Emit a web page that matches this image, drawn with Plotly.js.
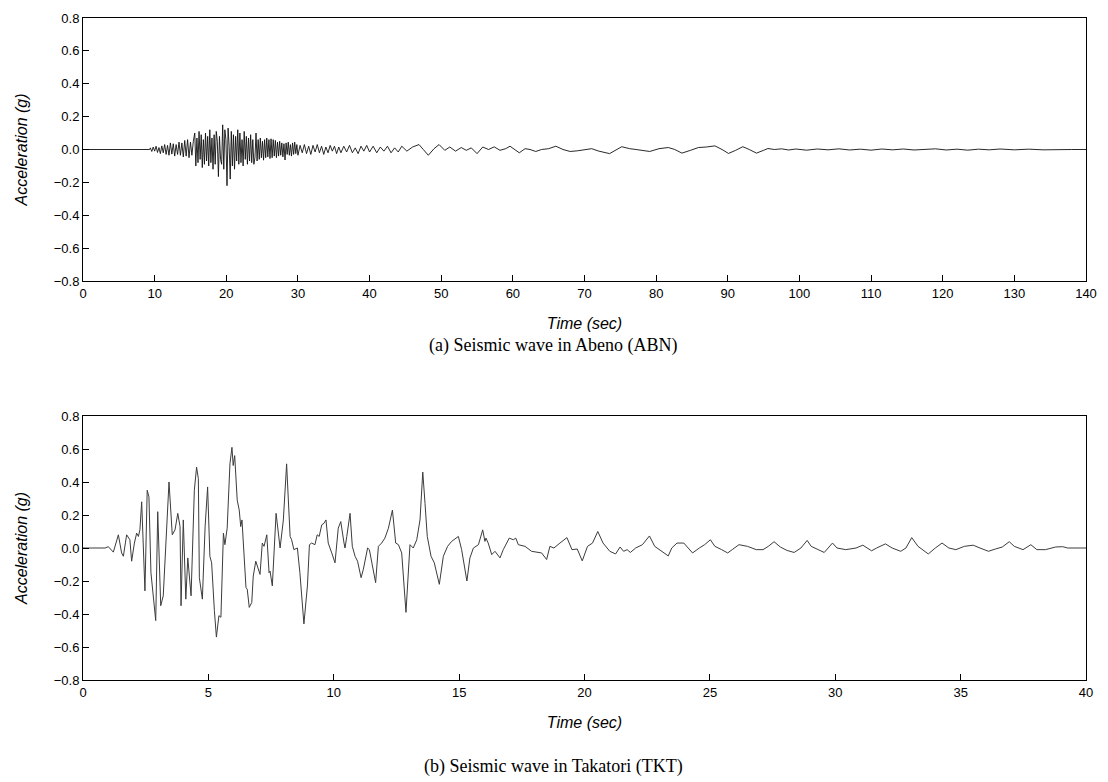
<!DOCTYPE html>
<html>
<head>
<meta charset="utf-8">
<script src="https://cdn.plot.ly/plotly-3.0.1.min.js"></script>
<style>html,body{margin:0;padding:0;background:#fff;}#chart{width:1108px;height:782px;}</style>
</head>
<body>
<div id="chart"></div>
<script>
// ---- (a) Abeno (ABN) record: time (s) and acceleration (g) ----
const abnTime = [0, 9.3,
 9.4, 9.6, 9.8, 10.0, 10.2, 10.4, 10.6, 10.8, 11.0, 11.2, 11.4, 11.6, 11.8, 12.0, 12.2, 12.4, 12.6, 12.8,
 13.0, 13.2, 13.4, 13.6, 13.8, 14.0, 14.2, 14.4, 14.6, 14.8, 15.0, 15.2, 15.4,
 15.6, 15.75, 15.9, 16.05, 16.2, 16.35, 16.5, 16.65, 16.8, 16.95, 17.1, 17.25, 17.4, 17.55, 17.7, 17.85,
 18.0, 18.15, 18.3, 18.45, 18.6, 18.75, 18.9, 19.05, 19.2, 19.35, 19.5, 19.65, 19.8, 19.95, 20.1, 20.25,
 20.4, 20.55, 20.7, 20.85, 21.0, 21.15, 21.3, 21.45, 21.6, 21.75, 21.9, 22.05, 22.2, 22.35, 22.5, 22.65,
 22.8, 22.95, 23.1, 23.25, 23.4, 23.55, 23.7, 23.85, 24.0, 24.15, 24.3, 24.45, 24.6, 24.75, 24.9, 25.05,
 25.2, 25.35, 25.5, 25.65, 25.8, 25.95, 26.1, 26.25, 26.4, 26.55, 26.7, 26.85, 27.0, 27.15, 27.3, 27.45,
 27.6, 27.75, 27.9, 28.05, 28.2, 28.35, 28.5, 28.65, 28.8, 28.95, 29.1, 29.25, 29.4, 29.55, 29.7, 29.85, 30.0,
 30.3, 30.6, 30.9, 31.2, 31.5, 31.8, 32.1, 32.4, 32.7, 33.0, 33.3, 33.6, 33.9, 34.2, 34.5, 34.8, 35.1, 35.4,
 35.7, 36.0, 36.4, 36.8, 37.2, 37.6, 38.0, 38.4, 38.8, 39.2, 39.6, 40.0, 40.5, 41.0, 41.5, 42.0, 42.5, 43.0,
 43.5, 44.0, 44.5, 45.2, 46.0, 46.9, 47.5, 48.2, 49.0, 49.7, 50.5, 51.2, 52.0, 52.8, 53.5, 54.2, 55.0, 55.8,
 56.6, 57.4, 58.2, 59.0, 59.6, 60.9, 61.7, 62.4, 63.2, 64.0, 65.0, 66.0, 67.0, 68.0, 69.0, 70.0, 71.0, 72.0,
 73.5, 75.2, 76.3, 77.2, 78.0, 79.1, 80.4, 81.7, 82.6, 83.6, 84.8, 85.9, 87.0, 88.2, 89.2, 90.1, 91.1, 92.1,
 93.0, 94.0, 95.0, 95.6, 96.5, 97.5, 98.5, 99.5, 101, 102.5, 104, 105.5, 107, 108.5, 110, 111.5, 113, 114.5,
 116, 117.5, 119, 120.5, 122, 123.5, 125, 126.5, 128, 130, 132, 134, 136, 138, 140];
const abnAccel = [0, 0,
 0.01, -0.012, 0.015, -0.01, 0.02, -0.018, 0.012, -0.025, 0.022, -0.02, 0.03, -0.03, 0.025, -0.035, 0.04, -0.028, 0.035, -0.04,
 0.03, -0.03, 0.045, -0.035, 0.04, -0.045, 0.055, -0.04, 0.06, -0.05, 0.045, -0.035, 0.05,
 0.10, -0.10, 0.07, -0.08, 0.11, -0.06, 0.09, -0.11, 0.06, -0.09, 0.10, -0.07, 0.08, -0.10, 0.12, -0.08,
 0.07, -0.12, 0.09, -0.09, 0.11, 0.05, -0.165, 0.08, -0.06, -0.09, 0.15, -0.12, 0.12, 0.06, -0.22, 0.13,
 0.02, -0.18, 0.11, -0.10, 0.09, -0.12, 0.08, -0.07, 0.12, -0.09, 0.10, -0.08, 0.06, -0.10, 0.11, -0.06,
 0.08, -0.09, 0.07, -0.07, 0.09, -0.08, 0.06, -0.09, -0.05, 0.10, -0.07, 0.06, -0.06, 0.07, -0.05, 0.05,
 -0.065, 0.06, -0.05, 0.07, -0.045, 0.06, -0.055, 0.065, -0.05, 0.06, -0.04, 0.055, -0.05, 0.045, -0.04, 0.05,
 -0.035, 0.04, -0.045, 0.035, -0.064, 0.04, -0.03, 0.045, -0.035, 0.03, -0.04, 0.04, -0.03, 0.045, -0.025, 0.03, -0.035,
 0.025, -0.02, 0.03, -0.025, 0.02, -0.03, 0.025, -0.015, 0.03, -0.02, 0.02, -0.03, 0.015, -0.02, 0.025, -0.01, 0.02, -0.025,
 0.015, -0.02, 0.02, -0.015, 0.025, -0.02, 0.01, -0.025, 0.02, -0.01, 0.025, -0.015, 0.02, -0.02, 0.015, -0.01, 0.02, -0.02,
 0.01, -0.015, 0.02, -0.01, 0.015, 0.03, 0.0, -0.035, 0.005, 0.03, -0.005, 0.015, -0.01, 0.012, -0.005, 0.01, -0.025, 0.015,
 0.0, 0.016, -0.005, 0.005, 0.02, -0.02, 0.005, 0.0, -0.012, 0.0, 0.005, 0.02, 0.0, -0.012, -0.008, 0.0, 0.005, -0.01,
 -0.025, 0.017, 0.005, 0.0, -0.005, -0.012, 0.005, 0.012, 0.0, -0.022, -0.005, 0.012, 0.015, 0.022, 0.0, -0.024, -0.005, 0.017,
 0.0, -0.022, -0.005, 0.006, 0.0, 0.004, -0.003, 0.003, -0.004, 0.003, -0.002, 0.004, -0.003, 0.002, -0.004, 0.003, -0.002, 0.003,
 -0.003, 0.002, 0.004, -0.003, 0.002, -0.004, 0.002, -0.002, 0.003, -0.002, 0.002, -0.002, 0.001, 0.0, 0.0];

// ---- (b) Takatori (TKT) record ----
const tktTime = [0, 0.48, 0.88, 1.01, 1.21, 1.41, 1.54, 1.61, 1.74, 1.87, 1.94, 2.05, 2.14, 2.21, 2.27, 2.34, 2.40, 2.47,
 2.56, 2.63, 2.71, 2.90, 2.98, 3.10, 3.20, 3.43, 3.56, 3.67, 3.78, 3.87, 3.91, 4.00, 4.10, 4.18, 4.31, 4.44,
 4.53, 4.60, 4.64, 4.76, 4.87, 4.97, 5.06, 5.13, 5.24, 5.32, 5.42, 5.50, 5.60, 5.66, 5.75, 5.86, 5.94, 5.99,
 6.05, 6.15, 6.23, 6.29, 6.34, 6.50, 6.55, 6.63, 6.73, 6.79, 6.89, 6.95, 7.06, 7.15, 7.22, 7.33, 7.42, 7.46,
 7.55, 7.70, 7.79, 7.86, 7.99, 8.12, 8.26, 8.32, 8.41, 8.55, 8.65, 8.81, 8.95, 9.03, 9.12, 9.25, 9.34, 9.42,
 9.52, 9.61, 9.69, 9.78, 9.92, 10.05, 10.18, 10.28, 10.41, 10.45, 10.52, 10.65, 10.74, 10.85, 10.95, 11.09, 11.18, 11.35,
 11.42, 11.51, 11.67, 11.78, 11.91, 12.04, 12.18, 12.34, 12.47, 12.58, 12.71, 12.88, 13.04, 13.17, 13.31, 13.44, 13.55, 13.64,
 13.73, 13.88, 14.01, 14.21, 14.37, 14.54, 14.70, 14.97, 15.10, 15.31, 15.43, 15.57, 15.77, 15.94, 16.03, 16.07, 16.16, 16.30,
 16.43, 16.63, 16.76, 17.00, 17.16, 17.26, 17.36, 17.63, 17.89, 18.29, 18.49, 18.62, 18.78, 19.02, 19.30, 19.50, 19.71, 19.91,
 20.12, 20.32, 20.53, 20.74, 21.01, 21.24, 21.42, 21.56, 21.70, 21.83, 22.04, 22.31, 22.59, 22.80, 23.07, 23.34, 23.48, 23.69,
 23.96, 24.31, 24.58, 24.79, 25.02, 25.20, 25.47, 25.71, 25.89, 26.16, 26.50, 26.85, 27.12, 27.33, 27.56, 27.81, 28.08, 28.36,
 28.63, 28.88, 29.04, 29.32, 29.56, 29.89, 30.07, 30.42, 30.83, 31.10, 31.45, 31.65, 32.00, 32.27, 32.61, 32.82, 33.05, 33.30,
 33.71, 33.99, 34.26, 34.53, 34.81, 35.15, 35.50, 35.77, 36.11, 36.39, 36.66, 36.94, 37.14, 37.49, 37.80, 38.04, 38.38, 38.79,
 39.07, 39.27, 40.0];
const tktAccel = [0, 0, 0.0, 0.008, -0.025, 0.08, -0.03, -0.05, 0.08, 0.05, -0.08, 0.03, 0.09, 0.07, 0.11, 0.28, 0.07, -0.26,
 0.35, 0.31, -0.15, -0.44, 0.22, -0.35, -0.29, 0.40, 0.08, 0.11, 0.21, 0.13, -0.35, 0.17, -0.31, -0.06, -0.29, 0.35,
 0.49, 0.42, -0.18, -0.31, 0.13, 0.37, -0.05, -0.09, -0.38, -0.54, -0.41, -0.42, 0.09, 0.02, 0.12, 0.51, 0.61, 0.50,
 0.56, 0.29, 0.23, 0.13, 0.17, -0.24, -0.25, -0.36, -0.33, -0.17, -0.08, -0.11, -0.16, 0.03, 0.01, 0.08, -0.15, -0.14,
 -0.23, 0.21, 0.09, 0.0, 0.17, 0.51, 0.07, 0.05, -0.01, 0.0, -0.15, -0.46, -0.23, 0.02, 0.03, 0.02, 0.08, 0.07,
 0.14, 0.15, 0.17, 0.03, -0.03, -0.09, 0.12, 0.16, 0.03, 0.0, 0.07, 0.21, 0.01, -0.05, -0.08, -0.18, -0.13, 0.0,
 -0.01, -0.09, -0.21, 0.01, 0.03, 0.06, 0.12, 0.23, 0.03, 0.02, -0.03, -0.39, 0.02, 0.0, 0.05, 0.17, 0.46, 0.27,
 0.07, -0.05, -0.09, -0.22, -0.05, 0.01, 0.04, 0.07, -0.01, -0.20, -0.06, 0.0, 0.02, 0.11, 0.04, 0.06, 0.03, -0.04,
 -0.02, -0.06, -0.01, 0.06, 0.05, 0.06, 0.02, 0.01, -0.02, -0.03, -0.07, 0.01, 0.0, 0.03, 0.063, -0.01, -0.006, -0.078,
 0.01, 0.03, 0.10, 0.03, -0.02, -0.036, 0.006, -0.02, -0.01, -0.027, 0.0, 0.02, 0.073, 0.01, -0.02, -0.048, 0.0, 0.03,
 0.03, -0.03, 0.0, 0.02, 0.05, 0.01, -0.01, -0.03, -0.01, 0.02, 0.01, -0.01, -0.01, 0.01, 0.038, 0.006, -0.015, -0.027,
 0.0, 0.046, 0.01, -0.01, -0.027, 0.03, 0.0, -0.01, 0.0, 0.017, -0.017, 0.0, 0.025, 0.0, -0.02, 0.0, 0.063, 0.01,
 -0.036, 0.0, 0.03, 0.0, -0.01, 0.01, 0.017, 0.0, -0.02, -0.006, 0.006, 0.038, 0.01, -0.01, 0.02, -0.01, -0.01, 0.006,
 0.008, 0.0, 0.0];

const yTickVals = [-0.8, -0.6, -0.4, -0.2, 0.0, 0.2, 0.4, 0.6, 0.8];
const captionA = '(a) Seismic wave in Abeno (ABN)';
const captionB = '(b) Seismic wave in Takatori (TKT)';
const xTitle = 'Time (sec)';
const yTitle = 'Acceleration (g)';

const tickFont = {family: 'Liberation Sans, Arial, sans-serif', size: 13, color: '#000'};
const titleFont = {family: 'Liberation Sans, Arial, sans-serif', size: 16, color: '#000'};
const xDom = [83/1108, 1086/1108];

function xAx(range, dtick, anchor) {
  return {domain: xDom, range: range, dtick: dtick, tick0: 0, anchor: anchor,
    showline: true, mirror: true, linecolor: '#000', linewidth: 1,
    ticks: 'inside', ticklen: 6, tickcolor: '#000', tickwidth: 1,
    showgrid: false, zeroline: false, tickfont: tickFont,
    title: {text: '<i>' + xTitle + '</i>', font: titleFont, standoff: 18}};
}
function yAx(dom, anchor) {
  return {domain: dom, range: [-0.8, 0.8], tickvals: yTickVals, tickformat: '.1f', anchor: anchor,
    showline: true, mirror: true, linecolor: '#000', linewidth: 1,
    ticks: 'inside', ticklen: 6, tickcolor: '#000', tickwidth: 1,
    showgrid: false, zeroline: false, tickfont: tickFont,
    title: {text: '<i>' + yTitle + '</i>', font: titleFont, standoff: 22}};
}

const data = [
  {x: abnTime, y: abnAccel, type: 'scatter', mode: 'lines', xaxis: 'x', yaxis: 'y',
   line: {color: '#111', width: 0.9}, hoverinfo: 'x+y'},
  {x: tktTime, y: tktAccel, type: 'scatter', mode: 'lines', xaxis: 'x2', yaxis: 'y2',
   line: {color: '#3c3c3c', width: 1}, hoverinfo: 'x+y'}
];

const capFont = {family: 'Liberation Serif, Times New Roman, serif', size: 18, color: '#000'};
const layout = {
  width: 1108, height: 782,
  margin: {l: 0, r: 0, t: 0, b: 0},
  paper_bgcolor: '#fff', plot_bgcolor: '#fff',
  showlegend: false,
  xaxis: xAx([0, 140], 10, 'y'),
  yaxis: yAx([501/782, 764/782], 'x'),
  xaxis2: xAx([0, 40], 5, 'y2'),
  yaxis2: yAx([102/782, 366/782], 'x2'),
  annotations: [
    {text: captionA, xref: 'paper', yref: 'paper', x: 553/1108, y: 1 - 346/782, xanchor: 'center', yanchor: 'middle',
     showarrow: false, font: capFont},
    {text: captionB, xref: 'paper', yref: 'paper', x: 553/1108, y: 1 - 766/782, xanchor: 'center', yanchor: 'middle',
     showarrow: false, font: capFont}
  ]
};

Plotly.newPlot('chart', data, layout, {displayModeBar: false, staticPlot: true});
</script>
</body>
</html>
